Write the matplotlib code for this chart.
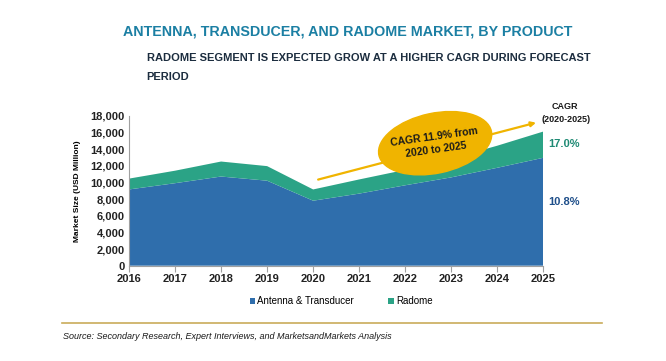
import matplotlib.pyplot as plt
from matplotlib.patches import Ellipse
from matplotlib.transforms import ScaledTranslation

years = [2016, 2017, 2018, 2019, 2020, 2021, 2022, 2023, 2024, 2025]
antenna = [9150, 9900, 10700, 10200, 7800, 8650, 9650, 10600, 11750, 12950]
radome = [1300, 1500, 1800, 1750, 1350, 1700, 1850, 2250, 2650, 3150]
series_names = ['Antenna & Transducer', 'Radome']
cagr_labels = ['10.8%', '17.0%']

blue = '#2f6eac'
green = '#2ba386'
gold = '#f0b400'

plt.rcParams['font.family'] = ['Liberation Sans', 'DejaVu Sans']

fig = plt.figure(figsize=(6.66, 3.61), dpi=100)
ax = fig.add_axes([0.1937, 0.264, 0.6221, 0.4155])

ax.stackplot(years, antenna, radome, colors=[blue, green], labels=series_names)
ax.set_xlim(2016, 2025)
ax.set_ylim(0, 18000)
ax.set_xticks(years)
ax.set_yticks(range(0, 18001, 2000))
ax.set_yticklabels([f'{v:,}' for v in range(0, 18001, 2000)])
for s in ['top', 'right']:
    ax.spines[s].set_visible(False)
for s in ['left', 'bottom']:
    ax.spines[s].set_color('#a0a0a0')
ax.tick_params(axis='y', length=0, labelsize=8, pad=3)
ax.tick_params(axis='x', length=4, color='#a0a0a0', labelsize=8, pad=2)
for lab in ax.get_xticklabels() + ax.get_yticklabels():
    lab.set_fontweight('bold')
    lab.set_color('#222222')
ax.set_ylabel('Market Size (USD Million)', fontsize=6, fontweight='bold', labelpad=7)

# CAGR arrow and ellipse
ax.annotate('', xy=(2024.9, 17250), xytext=(2020.05, 10250),
            arrowprops=dict(arrowstyle='-|>', color=gold, lw=1.6, mutation_scale=7),
            annotation_clip=False)
ell_center = ScaledTranslation(2022.65, 14700, ax.transData)
ell = Ellipse((0, 0), 1.15, 0.6, angle=12, color=gold, zorder=5, clip_on=False,
              transform=fig.dpi_scale_trans + ell_center)
ax.add_patch(ell)
ax.text(2022.65, 14700, 'CAGR 11.9% from\n2020 to 2025', ha='center', va='center', rotation=8,
        fontsize=7.5, fontweight='bold', color='#1a1a1a', zorder=6, linespacing=1.35)

# side CAGR labels
fig.text(0.848, 0.705, 'CAGR', fontsize=6.5, fontweight='bold', ha='center', va='center', color='#1a1a1a')
fig.text(0.850, 0.670, '(2020-2025)', fontsize=6.5, fontweight='bold', ha='center', va='center', color='#1a1a1a')
fig.text(0.823, 0.601, cagr_labels[1], fontsize=8, fontweight='bold', color='#1f8a74', va='center')
fig.text(0.823, 0.441, cagr_labels[0], fontsize=8, fontweight='bold', color='#1f4f8a', va='center')

# titles
fig.text(0.184, 0.914, 'ANTENNA, TRANSDUCER, AND RADOME MARKET, BY PRODUCT', fontsize=10.3,
         fontweight='bold', color='#1b7fa3', va='center')
fig.text(0.220, 0.839, 'RADOME SEGMENT IS EXPECTED GROW AT A HIGHER CAGR DURING FORECAST',
         fontsize=8, fontweight='bold', color='#1c2d3f', va='center')
fig.text(0.220, 0.787, 'PERIOD', fontsize=8, fontweight='bold', color='#1c2d3f', va='center')

leg = fig.legend(loc='center', bbox_to_anchor=(0.512, 0.166), ncol=2, frameon=False,
                 fontsize=7, handlelength=0.6, handleheight=0.6, handletextpad=0.2,
                 columnspacing=3.5)

fig.add_artist(plt.Line2D([0.093, 0.904], [0.104, 0.104], transform=fig.transFigure,
                          color='#c9ac5a', lw=1.2))
fig.text(0.094, 0.069, 'Source: Secondary Research, Expert Interviews, and MarketsandMarkets Analysis',
         fontsize=6.5, style='italic', color='#1a1a1a', va='center')

fig.savefig('out.png', dpi=100)
